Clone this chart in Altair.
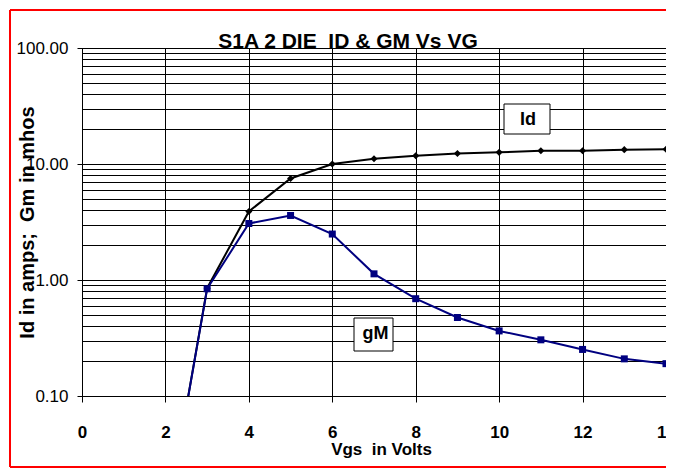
import altair as alt
import pandas as pd

# ---- data ----
vgs = [2, 3, 4, 5, 6, 7, 8, 9, 10, 11, 12, 13, 14]
id_amps = [0.0075, 0.85, 3.9, 7.5, 10.0, 11.1, 11.8, 12.3, 12.6, 13.0, 13.0, 13.3, 13.4]
gm_mhos = [0.0075, 0.84, 3.07, 3.6, 2.49, 1.13, 0.69, 0.475, 0.364, 0.305, 0.252, 0.209, 0.19]

x_ticks = [0, 2, 4, 6, 8, 10, 12, 14]
y_grid = [0.1, 0.2, 0.3, 0.4, 0.5, 0.6, 0.7, 0.8, 0.9,
          1, 2, 3, 4, 5, 6, 7, 8, 9,
          10, 20, 30, 40, 50, 60, 70, 80, 90, 100]

NB = "\u00a0"
title_text = f"S1A 2 DIE {NB}ID & GM Vs VG"
x_title = f"Vgs {NB}in Volts"
y_title = f"Id in amps; {NB}Gm in mhos"
label_id = "Id"
label_gm = "gM"

FONT = "Liberation Sans"
W, H = 584, 348

df_id = pd.DataFrame({"x": vgs, "y": id_amps})
df_gm = pd.DataFrame({"x": vgs, "y": gm_mhos})

is_decade = "abs(log(datum.value)/LN10 - round(log(datum.value)/LN10)) < 0.000001"

xs = alt.Scale(domain=[0, 14], nice=False, zero=False)
ys = alt.Scale(type="log", domain=[0.1, 100], nice=False)

x_axis = alt.Axis(
    values=x_ticks, grid=True, gridColor="#000000", gridWidth=1,
    tickSize=6, tickColor="#000000", domainColor="#000000",
    labelFont=FONT, labelFontSize=17, labelFontWeight="bold", labelColor="#000000",
    labelBaseline="alphabetic", labelPadding=35, labelFlush=False, labelOverlap=False,
    title=x_title, titleFont=FONT, titleFontSize=17, titleFontWeight="bold",
    titleColor="#000000", titleX=299, titleY=58, titleBaseline="alphabetic",
)
y_axis = alt.Axis(
    values=y_grid, grid=True, gridColor="#000000", gridWidth=1,
    tickSize=5, tickColor="#000000", domainColor="#000000",
    tickOpacity={"condition": {"test": is_decade, "value": 1}, "value": 0},
    labelExpr=f"({is_decade}) ? format(datum.value, '.2f') : ''",
    labelFont=FONT, labelFontSize=17, labelColor="#000000", labelPadding=9,
    labelFlush=False, labelOverlap=False,
    title=y_title, titleFont=FONT, titleFontSize=20, titleFontWeight="bold",
    titleColor="#000000", titleX=-49, titleY=H / 2, titleBaseline="alphabetic",
)

one = pd.DataFrame({"t": [""]})

RED = "#ff0000"
border_left = alt.Chart(one).mark_rule(color=RED, strokeWidth=2, clip=False).encode(
    x=alt.value(-72), y=alt.value(-38), y2=alt.value(419)
)
border_top = alt.Chart(one).mark_rule(color=RED, strokeWidth=2, clip=False).encode(
    x=alt.value(-72), x2=alt.value(592), y=alt.value(-38)
)
border_bottom = alt.Chart(one).mark_rule(color=RED, strokeWidth=2, clip=False).encode(
    x=alt.value(-72), x2=alt.value(592), y=alt.value(419)
)

id_line = alt.Chart(df_id).mark_line(color="#000000", strokeWidth=2, clip=True).encode(
    x=alt.X("x:Q", scale=xs, axis=x_axis),
    y=alt.Y("y:Q", scale=ys, axis=y_axis),
)
id_pts = alt.Chart(df_id).mark_point(shape="diamond", filled=True, color="#000000",
                                     size=50, opacity=1, clip=True).encode(
    x=alt.X("x:Q", scale=xs), y=alt.Y("y:Q", scale=ys)
)
gm_line = alt.Chart(df_gm).mark_line(color="#000080", strokeWidth=2, clip=True).encode(
    x=alt.X("x:Q", scale=xs), y=alt.Y("y:Q", scale=ys)
)
gm_pts = alt.Chart(df_gm).mark_point(shape="square", filled=True, color="#000080",
                                     size=49, opacity=1, clip=True).encode(
    x=alt.X("x:Q", scale=xs), y=alt.Y("y:Q", scale=ys)
)

box_id = alt.Chart(one).mark_rect(fill="#ffffff", stroke="#000000", strokeWidth=1).encode(
    x=alt.value(422), x2=alt.value(468), y=alt.value(56), y2=alt.value(86)
)
txt_id = alt.Chart(pd.DataFrame({"t": [label_id]})).mark_text(
    font=FONT, fontSize=18, fontWeight="bold", color="#000000", baseline="middle", align="center"
).encode(x=alt.value(446), y=alt.value(72), text="t:N")

box_gm = alt.Chart(one).mark_rect(fill="#ffffff", stroke="#000000", strokeWidth=1).encode(
    x=alt.value(272), x2=alt.value(311), y=alt.value(270), y2=alt.value(303)
)
txt_gm = alt.Chart(pd.DataFrame({"t": [label_gm]})).mark_text(
    font=FONT, fontSize=18, fontWeight="bold", color="#000000", baseline="middle", align="center"
).encode(x=alt.value(293.5), y=alt.value(286), text="t:N")

title = alt.Chart(pd.DataFrame({"t": [title_text]})).mark_text(
    font=FONT, fontSize=21, fontWeight="bold", color="#000000", baseline="alphabetic", align="center"
).encode(x=alt.value(266), y=alt.value(0), text="t:N")

chart = alt.layer(
    border_left, border_top, border_bottom,
    id_line, id_pts, gm_line, gm_pts, box_id, txt_id, box_gm, txt_gm, title
).properties(
    width=W, height=H,
    autosize=alt.AutoSizeParams(type="none"),
    padding={"left": 74, "top": 40, "right": 0, "bottom": 73},
    background="#ffffff",
).configure_view(stroke="#000000", strokeWidth=1)

chart.save("out.html", embed_options={"renderer": "svg", "actions": False})
